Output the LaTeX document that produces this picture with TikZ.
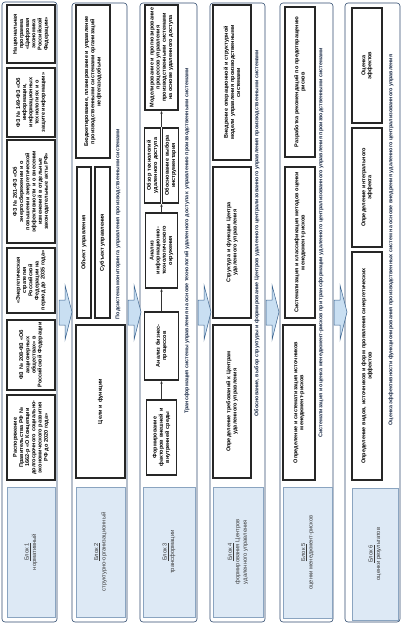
\documentclass[tikz,border=0pt]{standalone}
\usepackage{fontspec}
\setmainfont{Liberation Sans}
\usetikzlibrary{arrows.meta}
\definecolor{ramkacol}{HTML}{2F4B6E}
\definecolor{blokfill}{HTML}{DDE9F5}
\definecolor{blokline}{HTML}{8AA4C0}
\definecolor{blokcol}{HTML}{3A3A3A}
\definecolor{podpiscol}{HTML}{1C2C48}
\definecolor{strelkafill}{HTML}{C9DFF2}
\definecolor{strelkaline}{HTML}{3D6590}

\begin{document}
\begin{tikzpicture}[x=1pt,y=-1pt]
\tikzstyle{ramka}=[draw=ramkacol, line width=0.6pt, rounded corners=3pt]
\tikzstyle{blok}=[rotate=90, draw=blokline, fill=blokfill, line width=0.4pt, align=center, text=blokcol, inner sep=0pt, font=\fontsize{5.8}{7.5}\selectfont]
\tikzstyle{punkt}=[rotate=90, draw=black!85, line width=1.2pt, fill=white, align=center, inner sep=0.8pt, font=\fontsize{5.5}{6.2}\selectfont\bfseries]
\tikzstyle{podpis}=[rotate=90, text=podpiscol, inner sep=0pt, font=\fontsize{5.4}{6}\selectfont\bfseries]
\tikzstyle{strelka}=[draw=strelkaline, fill=strelkafill, line width=0.5pt]
\tikzstyle{svyaz}=[draw=black!80, line width=0.6pt, -{Latex[length=3pt,width=2.6pt]}]
\useasboundingbox (0,0) rectangle (403,627);

% frames of the six blocks
\draw[ramka] (2,2) rectangle (57,622);
\draw[ramka] (72,3) rectangle (127,622);
\draw[ramka] (140,3) rectangle (197,622);
\draw[ramka] (210,3) rectangle (265,622);
\draw[ramka] (280,3) rectangle (333,622);
\draw[ramka] (345,3) rectangle (400,622);

% arrows between blocks
\foreach \xa in {59,128,198,266,334}
  \draw[strelka] (\xa,300) -- ++(6,0) -- ++(0,-15) -- ++(7,27) -- ++(-7,28) -- ++(0,-15) -- ++(-6,0) -- cycle;

% block 1
\node[blok, minimum width=130, minimum height=48] (blok1) at (31,552) {\underline{Блок 1}\\нормативный};
\node[punkt, minimum width=85, minimum height=48, text width=80] (rasp) at (31,437.5) {Распоряжение Правительства РФ № 1662-р «О Концепции долгосрочного социально-экономического развития РФ до 2020 года»};
\node[punkt, minimum width=70, minimum height=48, text width=65] (fz208) at (31,355) {ФЗ № 208-ФЗ «Об акционерных обществах» в Российской Федерации};
\node[punkt, minimum width=65, minimum height=48, text width=60] (strat) at (31,280.5) {«Энергетическая стратегия Российской Федерации на период до 2035 года»};
\node[punkt, minimum width=103, minimum height=48, text width=98] (fz261) at (31,191.5) {ФЗ № 261-ФЗ «Об энергосбережении и о повышении энергетической эффективности и о внесении изменений в отдельные законодательные акты РФ»};
\node[punkt, minimum width=69, minimum height=48, text width=64] (fz149) at (31,102.5) {ФЗ № 149-ФЗ «Об информации, информационных технологиях и о защите информации»};
\node[punkt, minimum width=58, minimum height=48, text width=53] (natsprog) at (31,34) {Национальная программа «Цифровая экономика Российской Федерации»};

% block 2
\node[blok, minimum width=130, minimum height=49] (blok2) at (100.5,552) {\underline{Блок 2}\\структурно-организационный};
\node[punkt, minimum width=153, minimum height=49, text width=148] (tseli) at (100.5,401.5) {Цели и функции};
\node[punkt, minimum width=151, minimum height=14, text width=146] (obekt) at (84,242.5) {Объект управления};
\node[punkt, minimum width=151, minimum height=15, text width=146] (subekt) at (102.5,242.5) {Субъект управления};
\node[punkt, minimum width=153, minimum height=34, text width=148] (budzhet) at (93,81.5) {Бюджетирование, планирование и управление\\производственными системами организаций\\нефтегазодобычи};
\node[podpis] (podpis2) at (118,224) {Подсистема мониторинга управления производственными системами};

% block 3
\node[blok, minimum width=130, minimum height=52] (blok3) at (169,552) {\underline{Блок 3}\\трансформации};
\node[punkt, minimum width=75, minimum height=30, text width=70] (formir) at (161.5,437.5) {Формирование\\факторов внешней и\\внутренней среды};
\node[punkt, minimum width=68, minimum height=34, text width=63] (analizbp) at (161.5,346) {Анализ бизнес-\\процессов};
\node[punkt, minimum width=75, minimum height=32, text width=70] (analizit) at (161.5,250.5) {Анализ\\информационно-\\технологического\\окружения};
\node[punkt, minimum width=75, minimum height=16, text width=70] (obzor) at (152.5,165.5) {Обзор технологий\\удаленного доступа};
\node[punkt, minimum width=75, minimum height=16, text width=70] (obosn) at (170.5,165.5) {Обоснование выбора\\инструментария};
\node[punkt, minimum width=105, minimum height=33, text width=100] (model) at (161.5,57.5) {Моделирование и прогнозирование процессов управления производственными системами на основе удаленного доступа};
\node[podpis] (podpis3) at (187,241) {Трансформация системы управления на основе технологий удаленного доступа к управлению производственными системами};
\draw[svyaz] (formir) -- (analizbp);
\draw[svyaz] (analizbp) -- (analizit);
\draw[svyaz] (analizit) -- (analizit |- obzor.west);
\draw[svyaz] (analizit |- obzor.east) -- (model);

% block 4
\node[blok, minimum width=130, minimum height=50] (blok4) at (238,552) {\underline{Блок 4}\\формирования Центров\\удаленного управления};
\node[punkt, minimum width=153, minimum height=38, text width=148] (treb) at (232,401.5) {Определение требований к Центрам\\удаленного управления};
\node[punkt, minimum width=151, minimum height=38, text width=146] (struktura) at (232,242.5) {Структура и функции Центра\\удаленного управления};
\node[punkt, minimum width=155, minimum height=38, text width=150] (vnedr) at (232,82.5) {Внедрение операционной и структурной\\модели управления производственными\\системами};
\node[podpis] (podpis4) at (257,233) {Обоснование, выбор структуры и формирование Центров удаленного централизованного управления производственными системами};

% block 5
\node[blok, minimum width=131, minimum height=49] (blok5) at (307.5,552.5) {\underline{Блок 5}\\оценки менеджмент-рисков};
\node[punkt, minimum width=155, minimum height=32, text width=150] (opred5) at (299,402.5) {Определение и систематизация источников\\менеджмент-рисков};
\node[punkt, minimum width=151, minimum height=30, text width=146] (sistem) at (300,242.5) {Систематизация и классификация методов оценки\\менеджмент-рисков};
\node[punkt, minimum width=150, minimum height=30, text width=145] (rekom) at (300,82) {Разработка рекомендаций по предотвращению\\рисков};
\node[podpis] (podpis5) at (321,243) {Систематизация и оценка менеджмент-рисков при трансформации удаленного централизованного управления производственными системами};

% block 6
\node[blok, minimum width=132, minimum height=46] (blok6) at (375,554) {\underline{Блок 6}\\оценки результатов};
\node[punkt, minimum width=228, minimum height=30, text width=222] (vidy) at (367,366) {Определение видов, источников и форм проявления синергетических\\эффектов};
\node[punkt, minimum width=119, minimum height=30, text width=114] (integr) at (367,187.5) {Определение интегрального\\эффекта};
\node[punkt, minimum width=115, minimum height=30, text width=110] (otsenka) at (367,65.5) {Оценка\\эффектов};
\node[podpis] (podpis6) at (391,240) {Оценка эффективности функционирования производственных систем на основе внедрения удаленного централизованного управления};
\end{tikzpicture}
\end{document}
